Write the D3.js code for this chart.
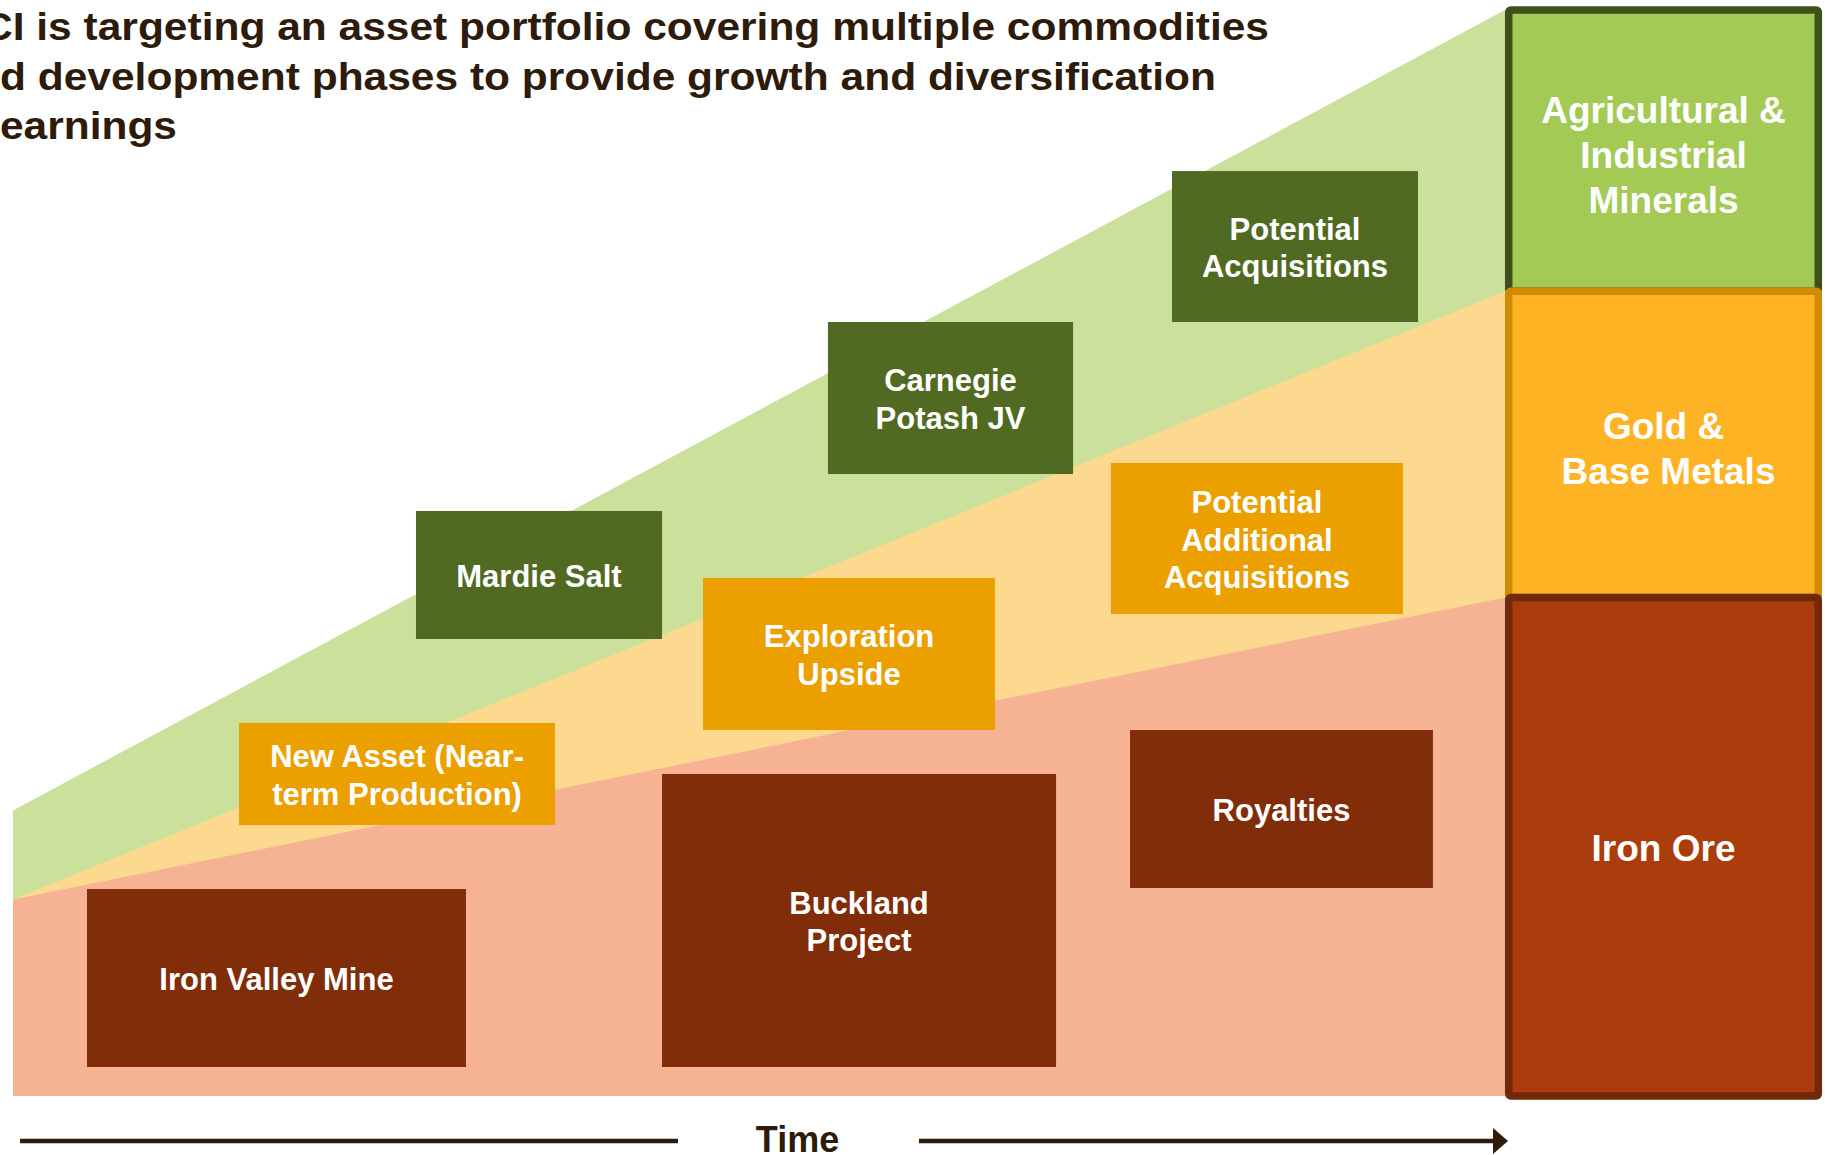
<!DOCTYPE html>
<html>
<head>
<meta charset="utf-8">
<script src="https://cdn.jsdelivr.net/npm/d3@7"></script>
<style>
  html, body { margin: 0; padding: 0; background: #ffffff; overflow: hidden; }
  svg { display: block; }
  text { font-family: "Liberation Sans", Arial, sans-serif; font-weight: bold; }
</style>
</head>
<body>
<svg id="chart" width="1825" height="1155"></svg>
<script>
// ---------------- DATA ----------------
const titleLines = [
  "CI is targeting an asset portfolio covering multiple commodities",
  "d development phases to provide growth and diversification",
  "earnings"
];

// commodity bands (stacked wedges), level at start and end of the time span
const bandNames = ["Iron Ore", "Gold & Base Metals", "Agricultural & Industrial Minerals"];
const bandLabelLines = [["Iron Ore"], ["Gold &", "Base Metals"], ["Agricultural &", "Industrial", "Minerals"]];
const bandTopStart = [18.1, 18.1, 26.3];
const bandTopEnd = [45.9, 74.1, 100];

// projects / assets
const projectLabels = [
  ["Iron Valley Mine"],
  ["New Asset (Near-", "term Production)"],
  ["Mardie Salt"],
  ["Buckland", "Project"],
  ["Exploration", "Upside"],
  ["Carnegie", "Potash JV"],
  ["Potential", "Acquisitions"],
  ["Potential", "Additional", "Acquisitions"],
  ["Royalties"]
];
const projectBand  = [0, 1, 2, 0, 1, 2, 2, 1, 0];
const projectStart = [4.96, 15.15, 27.01, 43.50, 46.25, 54.62, 77.68, 73.59, 74.87];
const projectEnd   = [30.36, 36.33, 43.50, 69.91, 65.82, 71.05, 94.17, 93.16, 95.17];
const projectLow   = [2.67, 24.95, 42.08, 2.67, 33.70, 57.27, 71.27, 44.38, 19.15];
const projectHigh  = [19.06, 34.35, 53.87, 29.65, 47.70, 71.27, 85.17, 58.29, 33.70];

const timeLabel = "Time";

// ---------------- STYLES ----------------
const wedgeColors = ["#f6b394", "#fdd98f", "#cbe09b"];
const boxColors   = ["#812d0a", "#eba000", "#516a21"];
const legendFill  = ["#ab3d0c", "#fdb324", "#a3ca55"];
const legendStroke = ["#72280a", "#d08b00", "#3f511b"];
const inkColor = "#2d1b0c";

// ---------------- SCALES ----------------
const svg = d3.select("#chart");
const x = d3.scaleLinear().domain([0, 100]).range([13, 1505]);
const y = d3.scaleLinear().domain([0, 100]).range([1096, 10]);

// ---------------- WEDGES ----------------
const area = d3.area()
  .x(d => x(d.t))
  .y0(y(0))
  .y1(d => y(d.v));

const wedgeOrder = [2, 1, 0];
wedgeOrder.forEach(i => {
  svg.append("path")
    .datum([{t: 0, v: bandTopStart[i]}, {t: 100, v: bandTopEnd[i]}])
    .attr("d", area)
    .attr("fill", wedgeColors[i]);
});

// ---------------- PROJECT BOXES ----------------
const projFont = 31, projLine = 37.5;
projectLabels.forEach((lines, i) => {
  const x0 = x(projectStart[i]), x1 = x(projectEnd[i]);
  const y0 = y(projectHigh[i]), y1 = y(projectLow[i]);
  const g = svg.append("g");
  g.append("rect")
    .attr("x", x0).attr("y", y0)
    .attr("width", x1 - x0).attr("height", y1 - y0)
    .attr("fill", boxColors[projectBand[i]]);
  const cx = (x0 + x1) / 2, cy = (y0 + y1) / 2 + 12;
  const n = lines.length;
  lines.forEach((ln, j) => {
    g.append("text")
      .attr("x", cx)
      .attr("y", cy + (j - (n - 1) / 2) * projLine)
      .attr("text-anchor", "middle")
      .attr("fill", "#ffffff")
      .attr("font-size", projFont)
      .text(ln);
  });
});

// ---------------- COMMODITY COLUMN ----------------
const colX0 = 100.25, colX1 = 121.0;
const bandEdges = [0, 45.9, 74.1, 100];
[2, 1, 0].forEach(i => {
  const top = y(bandEdges[i + 1]), bot = y(bandEdges[i]);
  const g = svg.append("g");
  g.append("rect")
    .attr("x", x(colX0)).attr("y", top)
    .attr("width", x(colX1) - x(colX0)).attr("height", bot - top)
    .attr("rx", 2).attr("ry", 2)
    .attr("fill", legendFill[i])
    .attr("stroke", legendStroke[i])
    .attr("stroke-width", 7.5);
  const lines = bandLabelLines[i];
  const n = lines.length;
  const cx = (x(colX0) + x(colX1)) / 2, cy = (top + bot) / 2 + 14 + (n > 1 ? 3 : 0);
  lines.forEach((ln, j) => {
    g.append("text")
      .attr("x", cx + (ln === "Base Metals" ? 5 : 0))
      .attr("y", cy + (j - (n - 1) / 2) * 45)
      .attr("text-anchor", "middle")
      .attr("fill", "#ffffff")
      .attr("font-size", 37)
      .text(ln);
  });
});

// ---------------- TIME ARROW ----------------
const arrowY = 1141;
svg.append("line")
  .attr("x1", 20).attr("x2", 678)
  .attr("y1", arrowY).attr("y2", arrowY)
  .attr("stroke", inkColor).attr("stroke-width", 4.5);
svg.append("line")
  .attr("x1", 919).attr("x2", x(100) - 10)
  .attr("y1", arrowY).attr("y2", arrowY)
  .attr("stroke", inkColor).attr("stroke-width", 4.5);
svg.append("path")
  .attr("d", `M${x(100) - 12},${arrowY - 13} L${x(100) + 3},${arrowY} L${x(100) - 12},${arrowY + 13} Z`)
  .attr("fill", inkColor);
svg.append("text")
  .attr("x", 797.5).attr("y", 1152)
  .attr("text-anchor", "middle")
  .attr("fill", inkColor)
  .attr("font-size", 36)
  .text(timeLabel);

// ---------------- TITLE ----------------
const titleX = [-18, 0, 0];
const titleEnd = [1269, 1216, 177];
titleLines.forEach((ln, i) => {
  svg.append("text")
    .attr("x", titleX[i])
    .attr("y", 40 + i * 49.5)
    .attr("fill", inkColor)
    .attr("font-size", 38)
    .attr("textLength", titleEnd[i] - titleX[i])
    .attr("lengthAdjust", "spacingAndGlyphs")
    .text(ln);
});
</script>
</body>
</html>
